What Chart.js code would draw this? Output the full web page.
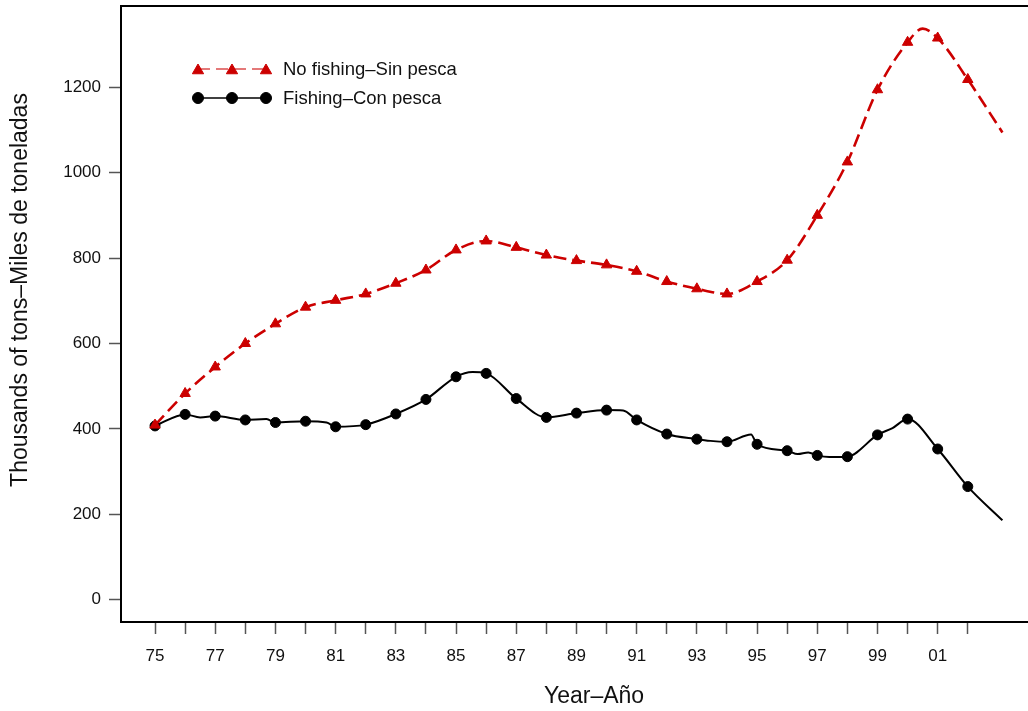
<!DOCTYPE html>
<html>
<head>
<meta charset="utf-8">
<script src="https://cdn.jsdelivr.net/npm/chart.js@4.4.0/dist/chart.umd.min.js"></script>
<style>
  html, body { margin: 0; padding: 0; background: #fff; overflow: hidden; }
  #chart { display: block; }
</style>
</head>
<body>
<canvas id="chart" width="1028" height="711"></canvas>
<script>
// years counted from 1900 (101 = 2001); markers only on whole years
const noFishingYears = [75, 76, 77, 78, 79, 80, 81, 82, 83, 84, 85, 86, 87, 88, 89, 90, 91, 92, 93, 94, 95, 96, 97, 98, 99, 100, 100.5, 101, 102, 103.15];
const noFishing      = [409, 483, 545, 600, 646, 685, 701, 716, 741, 772, 819, 840, 825, 807, 794, 784, 769, 745, 728, 716, 745, 795, 900, 1025, 1194, 1305, 1337, 1315, 1218, 1094];

const fishingYears = [75, 76, 76.5, 77, 78, 78.7, 79, 80, 80.7, 81, 82, 83, 84, 85, 85.55, 86, 87, 88, 89, 90, 90.55, 91, 92, 93, 93.45, 94, 94.8, 95, 96, 96.35, 96.7, 97, 97.4, 98, 99, 99.5, 100, 101, 102, 103.15];
const fishing      = [407, 434, 427, 430, 421, 423, 415, 418, 415, 405, 410, 435, 469, 522, 533, 530, 471, 427, 437, 444, 443, 421, 388, 376, 372, 370, 387, 364, 349, 341, 345, 338, 334, 335, 386, 402, 423, 353, 265, 186];

const xTicks = [75, 76, 77, 78, 79, 80, 81, 82, 83, 84, 85, 86, 87, 88, 89, 90, 91, 92, 93, 94, 95, 96, 97, 98, 99, 100, 101, 102];
const yTicks = [0, 200, 400, 600, 800, 1000, 1200];

const seriesLabels = ['No fishing\u2013Sin pesca', 'Fishing\u2013Con pesca'];
const xTitle = 'Year\u2013A\u00f1o';
const yTitle = 'Thousands of tons\u2013Miles de toneladas';

const RED = '#cc0000';
const FONT = 'Arial, "Liberation Sans", sans-serif';

function toPoints(xs, ys) {
    return xs.map((x, i) => ({ x: x, y: ys[i] }));
}

// marker only on whole years
function markerSize(r) {
    return ctx => (ctx.raw && Number.isInteger(ctx.raw.x)) ? r : 0;
}

// legend, top frame and axis titles
const extras = {
    id: 'extras',
    afterDraw(chart) {
        const ctx = chart.ctx;
        const area = chart.chartArea;
        ctx.save();

        // top border of the box
        ctx.strokeStyle = '#000';
        ctx.lineWidth = 2;
        ctx.beginPath();
        ctx.moveTo(area.left - 1, area.top);
        ctx.lineTo(chart.width, area.top);
        ctx.stroke();

        // legend
        const rows = [
            { y: 69, color: RED, dash: [12, 6], style: 'triangle', r: 6.5, width: 1.5, alpha: 0.7 },
            { y: 98, color: '#000', dash: [], style: 'circle', r: 5.5, width: 1.5, alpha: 1 }
        ];
        rows.forEach((row, i) => {
            ctx.save();
            ctx.globalAlpha = row.alpha;
            ctx.strokeStyle = row.color;
            ctx.lineWidth = row.width;
            ctx.setLineDash(row.dash);
            ctx.beginPath();
            ctx.moveTo(198, row.y);
            ctx.lineTo(266, row.y);
            ctx.stroke();
            ctx.restore();
            ctx.fillStyle = row.color;
            ctx.strokeStyle = row.color;
            ctx.lineWidth = 1;
            [198, 232, 266].forEach(px => {
                Chart.helpers.drawPoint(ctx, {
                    pointStyle: row.style, radius: row.r, rotation: 0, borderWidth: 1
                }, px, row.y + (row.style === 'triangle' ? 1.5 : 0));
            });
            ctx.fillStyle = '#111';
            ctx.font = '18.5px ' + FONT;
            ctx.textAlign = 'left';
            ctx.textBaseline = 'middle';
            ctx.fillText(seriesLabels[i], 283, row.y + 1);
        });

        // axis titles
        ctx.fillStyle = '#111';
        ctx.font = '23px ' + FONT;
        ctx.textAlign = 'center';
        ctx.textBaseline = 'middle';
        ctx.fillText(xTitle, 594, 697);

        ctx.translate(21, 290);
        ctx.rotate(-Math.PI / 2);
        ctx.fillText(yTitle, 0, 0);
        ctx.restore();
    }
};

const chart = new Chart(document.getElementById('chart'), {
    type: 'line',
    data: {
        datasets: [
            {
                label: seriesLabels[0],
                data: toPoints(noFishingYears, noFishing),
                borderColor: RED,
                backgroundColor: RED,
                borderWidth: 2.6,
                borderDash: [13, 6],
                cubicInterpolationMode: 'monotone',
                pointStyle: 'triangle',
                pointRadius: markerSize(6),
                pointBorderWidth: 1,
                pointHoverRadius: 0
            },
            {
                label: seriesLabels[1],
                data: toPoints(fishingYears, fishing),
                borderColor: '#000',
                backgroundColor: '#000',
                borderWidth: 2,
                cubicInterpolationMode: 'monotone',
                pointStyle: 'circle',
                pointRadius: markerSize(5),
                pointBorderWidth: 1,
                pointHoverRadius: 0
            }
        ]
    },
    options: {
        responsive: false,
        devicePixelRatio: 1,
        animation: false,
        layout: { autoPadding: false, padding: { top: 6, right: 0, left: 0, bottom: 0 } },
        plugins: {
            legend: { display: false },
            tooltip: { enabled: false }
        },
        scales: {
            x: {
                type: 'linear',
                min: 73.87,
                max: 104,
                afterBuildTicks: scale => { scale.ticks = xTicks.map(v => ({ value: v })); },
                afterFit: scale => {
                    scale.height = 89;
                    scale.paddingLeft = 0;
                    scale.paddingRight = 0;
                },
                border: { display: true, color: '#000', width: 2 },
                grid: { drawOnChartArea: false, drawTicks: true, tickLength: 12, tickColor: '#555', tickWidth: 1.5 },
                ticks: {
                    autoSkip: false,
                    maxRotation: 0,
                    padding: 12,
                    color: '#111',
                    font: { family: FONT, size: 17 },
                    callback: v => (v % 2 === 1) ? String(v % 100).padStart(2, '0') : ''
                }
            },
            y: {
                min: -52,
                max: 1390,
                afterBuildTicks: scale => { scale.ticks = yTicks.map(v => ({ value: v })); },
                afterFit: scale => {
                    scale.width = 121;
                    scale.paddingTop = 0;
                    scale.paddingBottom = 0;
                },
                border: { display: true, color: '#000', width: 2 },
                grid: { drawOnChartArea: false, drawTicks: true, tickLength: 12, tickColor: '#555', tickWidth: 1.5 },
                ticks: {
                    padding: 8,
                    color: '#111',
                    font: { family: FONT, size: 17 },
                    callback: v => String(v)
                }
            }
        }
    },
    plugins: [extras]
});
</script>
</body>
</html>
